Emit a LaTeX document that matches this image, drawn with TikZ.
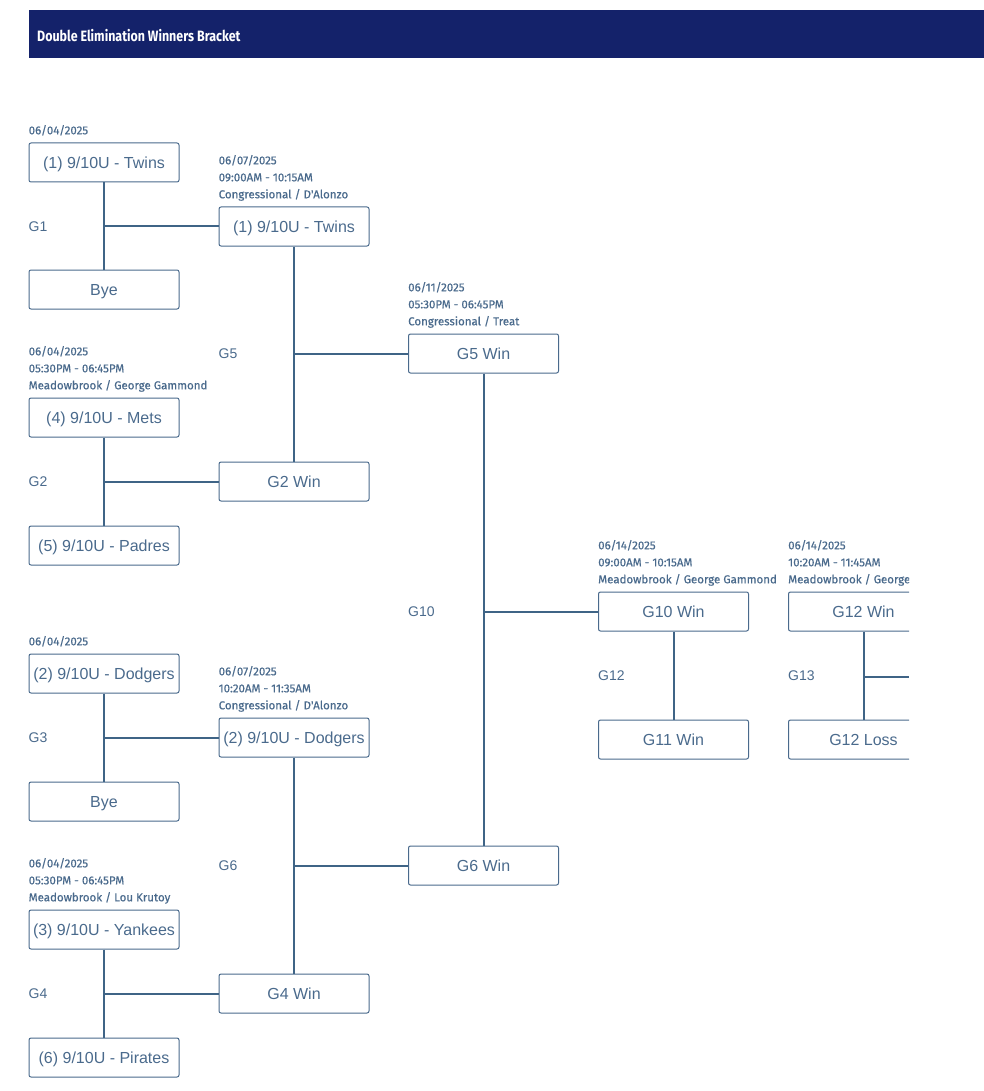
\documentclass[tikz,border=0pt]{standalone}
\usepackage{fontspec}
\setmainfont{Liberation Sans}
\newfontfamily\infofont{Fira Sans}[FakeBold=0.5]
\newfontfamily\titlefont{Fira Sans}[FakeStretch=0.83]
\usepackage{tikz}
\usetikzlibrary{positioning,calc}

\definecolor{navy}{HTML}{14226A}
\definecolor{ink}{HTML}{4A6A8C}
\definecolor{wire}{HTML}{3F6486}

\begin{document}
\begin{tikzpicture}[
x=1pt, y=-1pt,
team/.style={draw=ink, line width=1pt, rounded corners=2pt, minimum width=150pt, minimum height=39pt, inner sep=0pt, text height=11.5pt, text depth=0pt, text=ink, font=\fontsize{16}{18}\selectfont},
info/.style={anchor=south west, align=left, inner xsep=0pt, inner ysep=8pt, text depth=0pt, text=ink, font=\infofont\fontsize{11.5}{17}\selectfont},
game/.style={anchor=west, inner sep=0pt, text=ink, font=\fontsize{14}{16}\selectfont},
link/.style={draw=wire, line width=2pt},
]
\useasboundingbox (0,0) rectangle (984,1091);

% header
\fill[navy] (29,10) rectangle (984,58);
\node[anchor=west, inner sep=0pt, text=white, font=\titlefont\bfseries\fontsize{15}{17}\selectfont] (title) at (37,36) {Double Elimination Winners Bracket};

% first round
\node[team] (t1) at (104,162.5) {(1) 9/10U - Twins};
\node[team] (b1) at (104,289.5) {Bye};
\node[team] (m1) at (104,417.5) {(4) 9/10U - Mets};
\node[team] (p1) at (104,545.5) {(5) 9/10U - Padres};
\node[team] (d1) at (104,673.5) {(2) 9/10U - Dodgers};
\node[team] (b2) at (104,801.5) {Bye};
\node[team] (y1) at (104,929.5) {(3) 9/10U - Yankees};
\node[team] (r1) at (104,1057.5) {(6) 9/10U - Pirates};

% second round
\node[team] (w1) at (294,226.5) {(1) 9/10U - Twins};
\node[team] (w2) at (294,481.5) {G2 Win};
\node[team] (w3) at (294,737.5) {(2) 9/10U - Dodgers};
\node[team] (w4) at (294,993.5) {G4 Win};

% third round
\node[team] (s1) at (483.5,353.5) {G5 Win};
\node[team] (s2) at (483.5,865.5) {G6 Win};

% fourth round
\node[team] (f1) at (673.5,611.5) {G10 Win};
\node[team] (f2) at (673.5,739.5) {G11 Win};

% dates and fields
\node[info] (i1) at (t1.north west) {06/04/2025};
\node[info] (i2) at (m1.north west) {06/04/2025\\05:30PM - 06:45PM\\Meadowbrook / George Gammond};
\node[info] (i3) at (d1.north west) {06/04/2025};
\node[info] (i4) at (y1.north west) {06/04/2025\\05:30PM - 06:45PM\\Meadowbrook / Lou Krutoy};
\node[info] (i5) at (w1.north west) {06/07/2025\\09:00AM - 10:15AM\\Congressional / D'Alonzo};
\node[info] (i6) at (w3.north west) {06/07/2025\\10:20AM - 11:35AM\\Congressional / D'Alonzo};
\node[info] (i7) at (s1.north west) {06/11/2025\\05:30PM - 06:45PM\\Congressional / Treat};
\node[info] (i8) at (f1.north west) {06/14/2025\\09:00AM - 10:15AM\\Meadowbrook / George Gammond};

% game numbers
\node[game] (g1) at (t1.west |- w1) {G1};
\node[game] (g2) at (m1.west |- w2) {G2};
\node[game] (g3) at (d1.west |- w3) {G3};
\node[game] (g4) at (y1.west |- w4) {G4};
\node[game] (g5) at (w1.west |- s1) {G5};
\node[game] (g6) at (w3.west |- s2) {G6};
\node[game] (g10) at (s1.west |- f1) {G10};
\node[game] (g12) at ($(f1.west)!0.5!(f2.west)$) {G12};

% connectors
\path[link]
(t1.south) -- (b1.north)
(t1.south |- w1) -- (w1.west)
(m1.south) -- (p1.north)
(m1.south |- w2) -- (w2.west)
(d1.south) -- (b2.north)
(d1.south |- w3) -- (w3.west)
(y1.south) -- (r1.north)
(y1.south |- w4) -- (w4.west)
(w1.south) -- (w2.north)
(w1.south |- s1) -- (s1.west)
(w3.south) -- (w4.north)
(w3.south |- s2) -- (s2.west)
(s1.south) -- (s2.north)
(s1.south |- f1) -- (f1.west)
(f1.south) -- (f2.north)
;

% last round, cut off at the right
\begin{scope}
\clip (0,0) rectangle (909,1091);
\node[team] (k1) at (863.5,611.5) {G12 Win};
\node[team] (k2) at (863.5,739.5) {G12 Loss};
\node[info] (i9) at (k1.north west) {06/14/2025\\10:20AM - 11:45AM\\Meadowbrook / George Gammond};
\node[game] (g13) at ($(k1.west)!0.5!(k2.west)$) {G13};
\coordinate (cut) at (909,677);
\path[link]
(k1.south) -- (k2.north)
(k1.south |- cut) -- (cut);
\end{scope}
\end{tikzpicture}
\end{document}
